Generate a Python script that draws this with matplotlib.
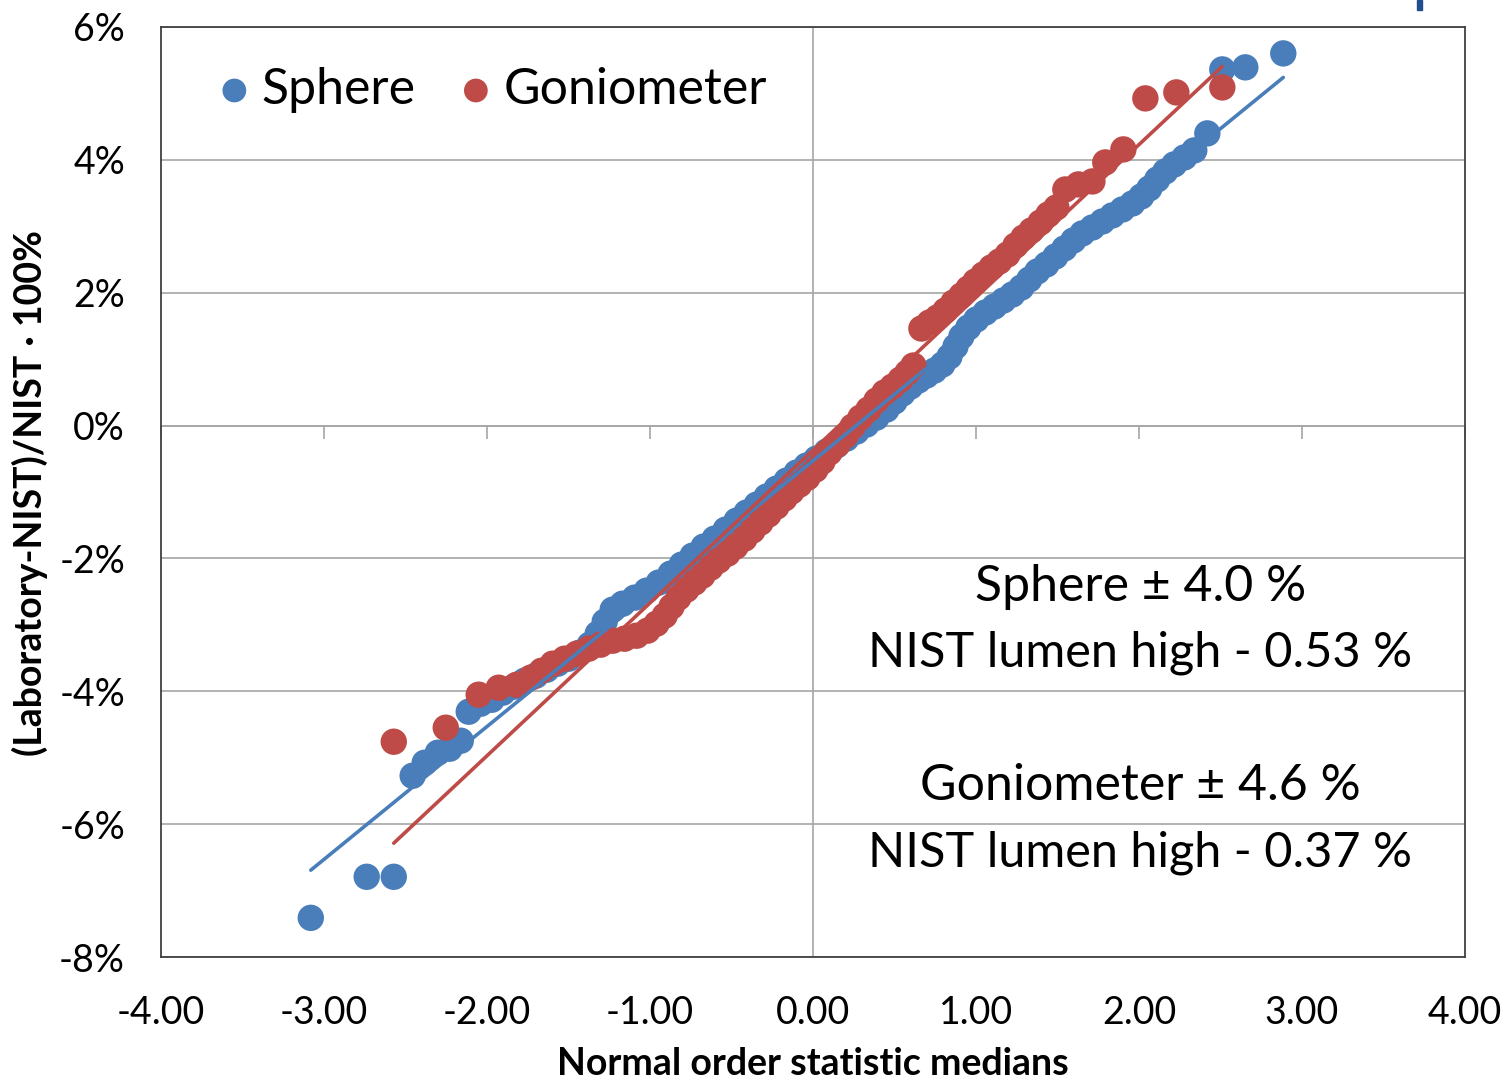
import matplotlib
matplotlib.use("Agg")
import matplotlib.pyplot as plt
from matplotlib.patches import Rectangle

plt.rcParams["font.family"] = ["Lato", "DejaVu Sans"]
plt.rcParams["axes.unicode_minus"] = False

BLUE = "#4A7EBB"
RED = "#BE4B48"

# normal order statistic medians (x) and deviation from NIST in % (y)
sphere_x = [-3.081, -2.738, -2.572, -2.456, -2.382, -2.302, -2.229, -2.161, -2.112, -2.039,
            -1.971, -1.904, -1.836, -1.769, -1.701, -1.634, -1.567, -1.499, -1.432, -1.370,
            -1.321, -1.278, -1.229, -1.168, -1.094, -1.021, -0.947, -0.874, -0.806, -0.739,
            -0.671, -0.604, -0.536, -0.469, -0.408, -0.346, -0.285, -0.224, -0.162, -0.101,
            -0.040, 0.021, 0.083, 0.144, 0.205, 0.267, 0.328, 0.389, 0.451, 0.500,
            0.549, 0.598, 0.647, 0.696, 0.745, 0.794, 0.837, 0.874, 0.910, 0.953,
            1.002, 1.058, 1.113, 1.168, 1.223, 1.278, 1.327, 1.376, 1.432, 1.487,
            1.542, 1.597, 1.652, 1.714, 1.775, 1.836, 1.898, 1.959, 2.014, 2.063,
            2.112, 2.161, 2.216, 2.278, 2.339, 2.419, 2.511, 2.652, 2.885]
sphere_y = [-7.410, -6.792, -6.792, -5.271, -5.075, -4.925, -4.864, -4.744, -4.307, -4.187,
            -4.127, -4.021, -3.931, -3.840, -3.765, -3.675, -3.584, -3.509, -3.419, -3.298,
            -3.133, -2.952, -2.771, -2.681, -2.590, -2.485, -2.364, -2.229, -2.093, -1.958,
            -1.822, -1.702, -1.566, -1.431, -1.310, -1.190, -1.069, -0.949, -0.828, -0.708,
            -0.602, -0.497, -0.392, -0.301, -0.196, -0.090, 0.015, 0.120, 0.241, 0.361,
            0.482, 0.587, 0.678, 0.753, 0.828, 0.919, 1.039, 1.190, 1.340, 1.476,
            1.596, 1.702, 1.792, 1.883, 1.973, 2.078, 2.199, 2.319, 2.425, 2.545,
            2.666, 2.786, 2.892, 2.982, 3.072, 3.163, 3.253, 3.343, 3.449, 3.569,
            3.705, 3.825, 3.931, 4.036, 4.142, 4.398, 5.361, 5.392, 5.602]

gonio_x = [-2.572, -2.253, -2.051, -1.928, -1.818, -1.732, -1.665, -1.597, -1.524, -1.450,
           -1.376, -1.303, -1.229, -1.156, -1.082, -1.015, -0.960, -0.910, -0.868, -0.825,
           -0.776, -0.727, -0.678, -0.628, -0.579, -0.524, -0.475, -0.420, -0.371, -0.322,
           -0.273, -0.224, -0.175, -0.132, -0.083, -0.034, 0.015, 0.058, 0.101, 0.150,
           0.199, 0.242, 0.291, 0.340, 0.389, 0.438, 0.487, 0.536, 0.579, 0.616,
           0.665, 0.714, 0.763, 0.812, 0.861, 0.910, 0.953, 0.996, 1.045, 1.094,
           1.143, 1.193, 1.242, 1.291, 1.340, 1.395, 1.444, 1.493, 1.548, 1.628,
           1.714, 1.793, 1.904, 2.039, 2.229, 2.511]
gonio_y = [-4.759, -4.548, -4.051, -3.946, -3.901, -3.795, -3.690, -3.584, -3.509, -3.434,
           -3.358, -3.298, -3.238, -3.208, -3.163, -3.087, -2.982, -2.861, -2.726, -2.590,
           -2.470, -2.364, -2.259, -2.139, -2.033, -1.928, -1.822, -1.702, -1.581, -1.461,
           -1.340, -1.220, -1.099, -0.994, -0.889, -0.783, -0.663, -0.542, -0.407, -0.286,
           -0.151, -0.015, 0.120, 0.241, 0.377, 0.497, 0.587, 0.693, 0.798, 0.904,
           1.461, 1.551, 1.627, 1.732, 1.852, 1.958, 2.063, 2.169, 2.274, 2.380,
           2.470, 2.575, 2.711, 2.831, 2.937, 3.057, 3.178, 3.283, 3.554, 3.630,
           3.675, 3.961, 4.157, 4.925, 5.015, 5.090]

# fitted lines: offset (NIST lumen high) and +/- 2 sigma spread, in %
sphere_offset, sphere_spread = -0.53, 4.0
gonio_offset, gonio_spread = -0.37, 4.6

x_ticks = [-4, -3, -2, -1, 0, 1, 2, 3, 4]
y_ticks = [-8, -6, -4, -2, 0, 2, 4, 6]

fig = plt.figure(figsize=(15.06, 10.83), dpi=100)
ax = fig.add_axes([0.1069, 0.1163, 0.8659, 0.8588])

ax.scatter(sphere_x, sphere_y, s=19 ** 2, color=BLUE, edgecolors="none", label="Sphere", zorder=3)
ax.scatter(gonio_x, gonio_y, s=19 ** 2, color=RED, edgecolors="none", label="Goniometer", zorder=3)

for xs, off, spread, col in [(sphere_x, sphere_offset, sphere_spread, BLUE),
                             (gonio_x, gonio_offset, gonio_spread, RED)]:
    x0, x1 = min(xs), max(xs)
    slope = spread / 2
    ax.plot([x0, x1], [off + slope * x0, off + slope * x1], color=col, lw=2.6,
            solid_capstyle="round", zorder=4)

ax.set_xlim(-4, 4)
ax.set_ylim(-8, 6)
ax.set_xticks(x_ticks, [f"{v:.2f}" for v in x_ticks])
ax.set_yticks(y_ticks, [f"{v}%" for v in y_ticks])
ax.tick_params(axis="both", length=0, labelsize=27)
ax.tick_params(axis="x", pad=27)
ax.tick_params(axis="y", pad=26)
ax.grid(axis="y", color="#A6A6A6", lw=1.2, zorder=0)
ax.axvline(0, color="#A6A6A6", lw=1.2, zorder=1)
ax.axhline(0, color="#A6A6A6", lw=1.2, zorder=1)
for sp in ax.spines.values():
    sp.set_color("#404040")
    sp.set_linewidth(1.3)

# tick marks hang off the zero line
sec = ax.secondary_xaxis(8 / 14)
sec.xaxis.set_ticks_position("bottom")
sec.set_xticks(x_ticks, labels=[""] * len(x_ticks))
sec.tick_params(axis="x", direction="out", length=9, width=1.2, color="#A6A6A6",
                labelbottom=False, labeltop=False)
for sp in sec.spines.values():
    sp.set_visible(False)

ax.set_xlabel("Normal order statistic medians", fontsize=27, fontweight="bold", labelpad=12)
fig.text(30 / 1506, 1 - 493 / 1083, "(Laboratory-NIST)/NIST · 100%", rotation=90,
         ha="center", va="center", fontsize=27, fontweight="bold")

ax.legend(loc="upper left", bbox_to_anchor=(0.016, 0.995), ncol=2, frameon=False, fontsize=36,
          handlelength=0.7, handletextpad=0.2, columnspacing=0.85, markerscale=0.9,
          borderaxespad=0.3)

ax.text(0.751, 0.398, "Sphere ± 4.0 %", transform=ax.transAxes, ha="center", va="center", fontsize=36)
ax.text(0.751, 0.327, "NIST lumen high - 0.53 %", transform=ax.transAxes, ha="center", va="center", fontsize=35)
ax.text(0.751, 0.184, "Goniometer ± 4.6 %", transform=ax.transAxes, ha="center", va="center", fontsize=36)
ax.text(0.751, 0.112, "NIST lumen high - 0.37 %", transform=ax.transAxes, ha="center", va="center", fontsize=35)

fig.patches.append(Rectangle((1417 / 1506, 1 - 10 / 1083), 5 / 1506, 10 / 1083,
                             transform=fig.transFigure, color="#1F4E8C"))

fig.savefig("out.png", dpi=100)
